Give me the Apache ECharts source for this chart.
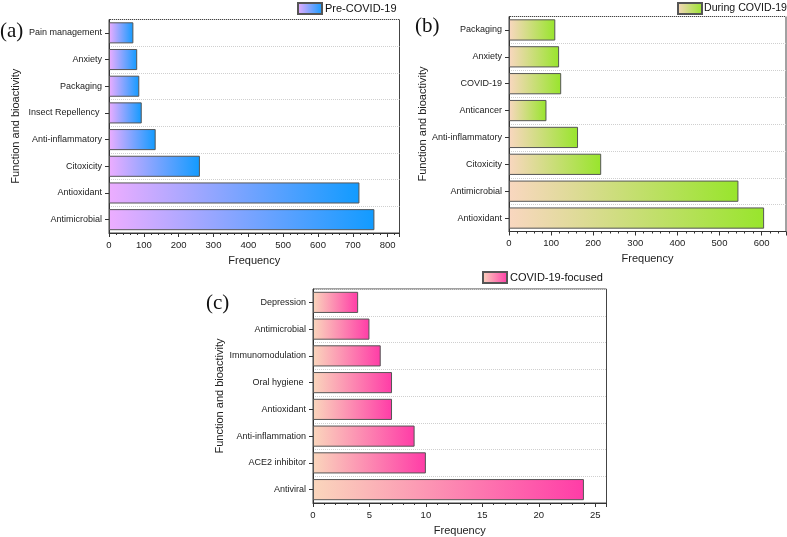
<!DOCTYPE html>
<html>
<head>
<meta charset="utf-8">
<script src="https://cdn.jsdelivr.net/npm/echarts@6/dist/echarts.min.js"></script>
<style>
html,body{margin:0;padding:0;background:#fff;}
#chart{width:787px;height:537px;}
</style>
</head>
<body>
<div id="chart"></div>
<script>
// Categories listed bottom-to-top (ECharts category order)
var catsA = ['Antimicrobial','Antioxidant','Citoxicity','Anti-inflammatory','Insect Repellency ','Packaging','Anxiety','Pain management'];
var valsA = [762, 719, 261, 134, 94, 87, 81, 70];
var catsB = ['Antioxidant','Antimicrobial','Citoxicity','Anti-inflammatory','Anticancer','COVID-19','Anxiety','Packaging'];
var valsB = [606, 545, 219, 164, 89, 124, 119, 110];
var catsC = ['Antiviral','ACE2 inhibitor','Anti-inflammation','Antioxidant','Oral hygiene ','Immunomodulation','Antimicrobial','Depression'];
var valsC = [24, 10, 9, 7, 7, 6, 5, 4];
var seriesNames = ['Pre-COVID-19','During COVID-19','COVID-19-focused'];
var panelLabels = ['(a)','(b)','(c)'];
var xTitle = 'Frequency';
var yTitle = 'Function and bioactivity';

var FONT = '"Liberation Sans", Arial, sans-serif';
var chart = echarts.init(document.getElementById('chart'), null, {renderer:'canvas'});

function grad(c0, c1){
  return new echarts.graphic.LinearGradient(0,0,1,0,[{offset:0,color:c0},{offset:1,color:c1}]);
}
var grids = [
  {left:109, top:19.5, width:290.5, height:213.5},
  {left:509, top:16.5, width:277, height:215},
  {left:313, top:289, width:293.5, height:214}
];
var maxes = [834, 658, 26];
var intervals = [100, 100, 5];
var yGaps = [88, 75, 87];
var colors = [['#EDADFF','#119BFF'],['#F9D7C0','#98E52C'],['#FAD6BC','#FF3CA7']];
var cats = [catsA, catsB, catsC];
var vals = [valsA, valsB, valsC];

var option = {
  animation:false,
  backgroundColor:'#fff',
  textStyle:{fontFamily:FONT},
  grid: grids.map(function(g){ return Object.assign({show:true, borderColor:'#444', borderWidth:1, containLabel:false}, g); }),
  xAxis: grids.map(function(g,i){ return {
    type:'value', gridIndex:i, min:0, max:maxes[i], interval:intervals[i],
    name:xTitle, nameLocation:'middle', nameGap:22,
    nameTextStyle:{fontFamily:FONT, fontSize:11, color:'#222'},
    axisLine:{show:true, lineStyle:{color:'#333', width:1}},
    axisTick:{show:true, inside:false, length:4, lineStyle:{color:'#333'}},
    minorTick:{show:true, splitNumber:5, length:2, lineStyle:{color:'#333'}},
    axisLabel:{fontFamily:FONT, fontSize:9.5, color:'#222', margin:7, showMaxLabel:false},
    splitLine:{show:false}
  };}),
  yAxis: grids.map(function(g,i){ return {
    type:'category', gridIndex:i, data:cats[i],
    name:yTitle, nameLocation:'middle', nameGap:yGaps[i], nameRotate:90,
    nameTextStyle:{fontFamily:FONT, fontSize:11, color:'#222'},
    axisLine:{show:true, lineStyle:{color:'#333', width:1}},
    axisTick:{show:true, alignWithLabel:true, length:4, lineStyle:{color:'#333'}},
    axisLabel:{fontFamily:FONT, fontSize:9, color:'#222', margin:7},
    splitLine:{show:true, lineStyle:{color:'#cfcfcf', type:'dotted', width:1}}
  };}),
  legend: [
    {data:[seriesNames[0]], left:297, top:2},
    {data:[seriesNames[1]], left:677, top:2, textStyle:{fontFamily:FONT, fontSize:10.6, color:'#111', padding:[0,0,0,-3]}},
    {data:[seriesNames[2]], left:482, top:271}
  ].map(function(l){ return Object.assign({itemWidth:24, itemHeight:11, itemGap:4, icon:'rect',
      textStyle:{fontFamily:FONT, fontSize:11, color:'#111', padding:[0,0,0,-2]}, padding:0}, l); }),
  series: grids.map(function(g,i){ return {
    type:'bar', name:seriesNames[i], xAxisIndex:i, yAxisIndex:i, data:vals[i],
    barWidth:'79%',
    itemStyle:{color:grad(colors[i][0], colors[i][1]), borderColor:'#555', borderWidth:1}
  };}),
  graphic: [
    {type:'text', left:0, top:21, style:{text:panelLabels[0], font:'21px "Liberation Serif", "Times New Roman", serif', fill:'#111'}},
    {type:'text', left:415, top:16, style:{text:panelLabels[1], font:'21px "Liberation Serif", "Times New Roman", serif', fill:'#111'}},
    {type:'text', left:206, top:293, style:{text:panelLabels[2], font:'21px "Liberation Serif", "Times New Roman", serif', fill:'#111'}}
  ]
};
chart.setOption(option);
</script>
</body>
</html>
